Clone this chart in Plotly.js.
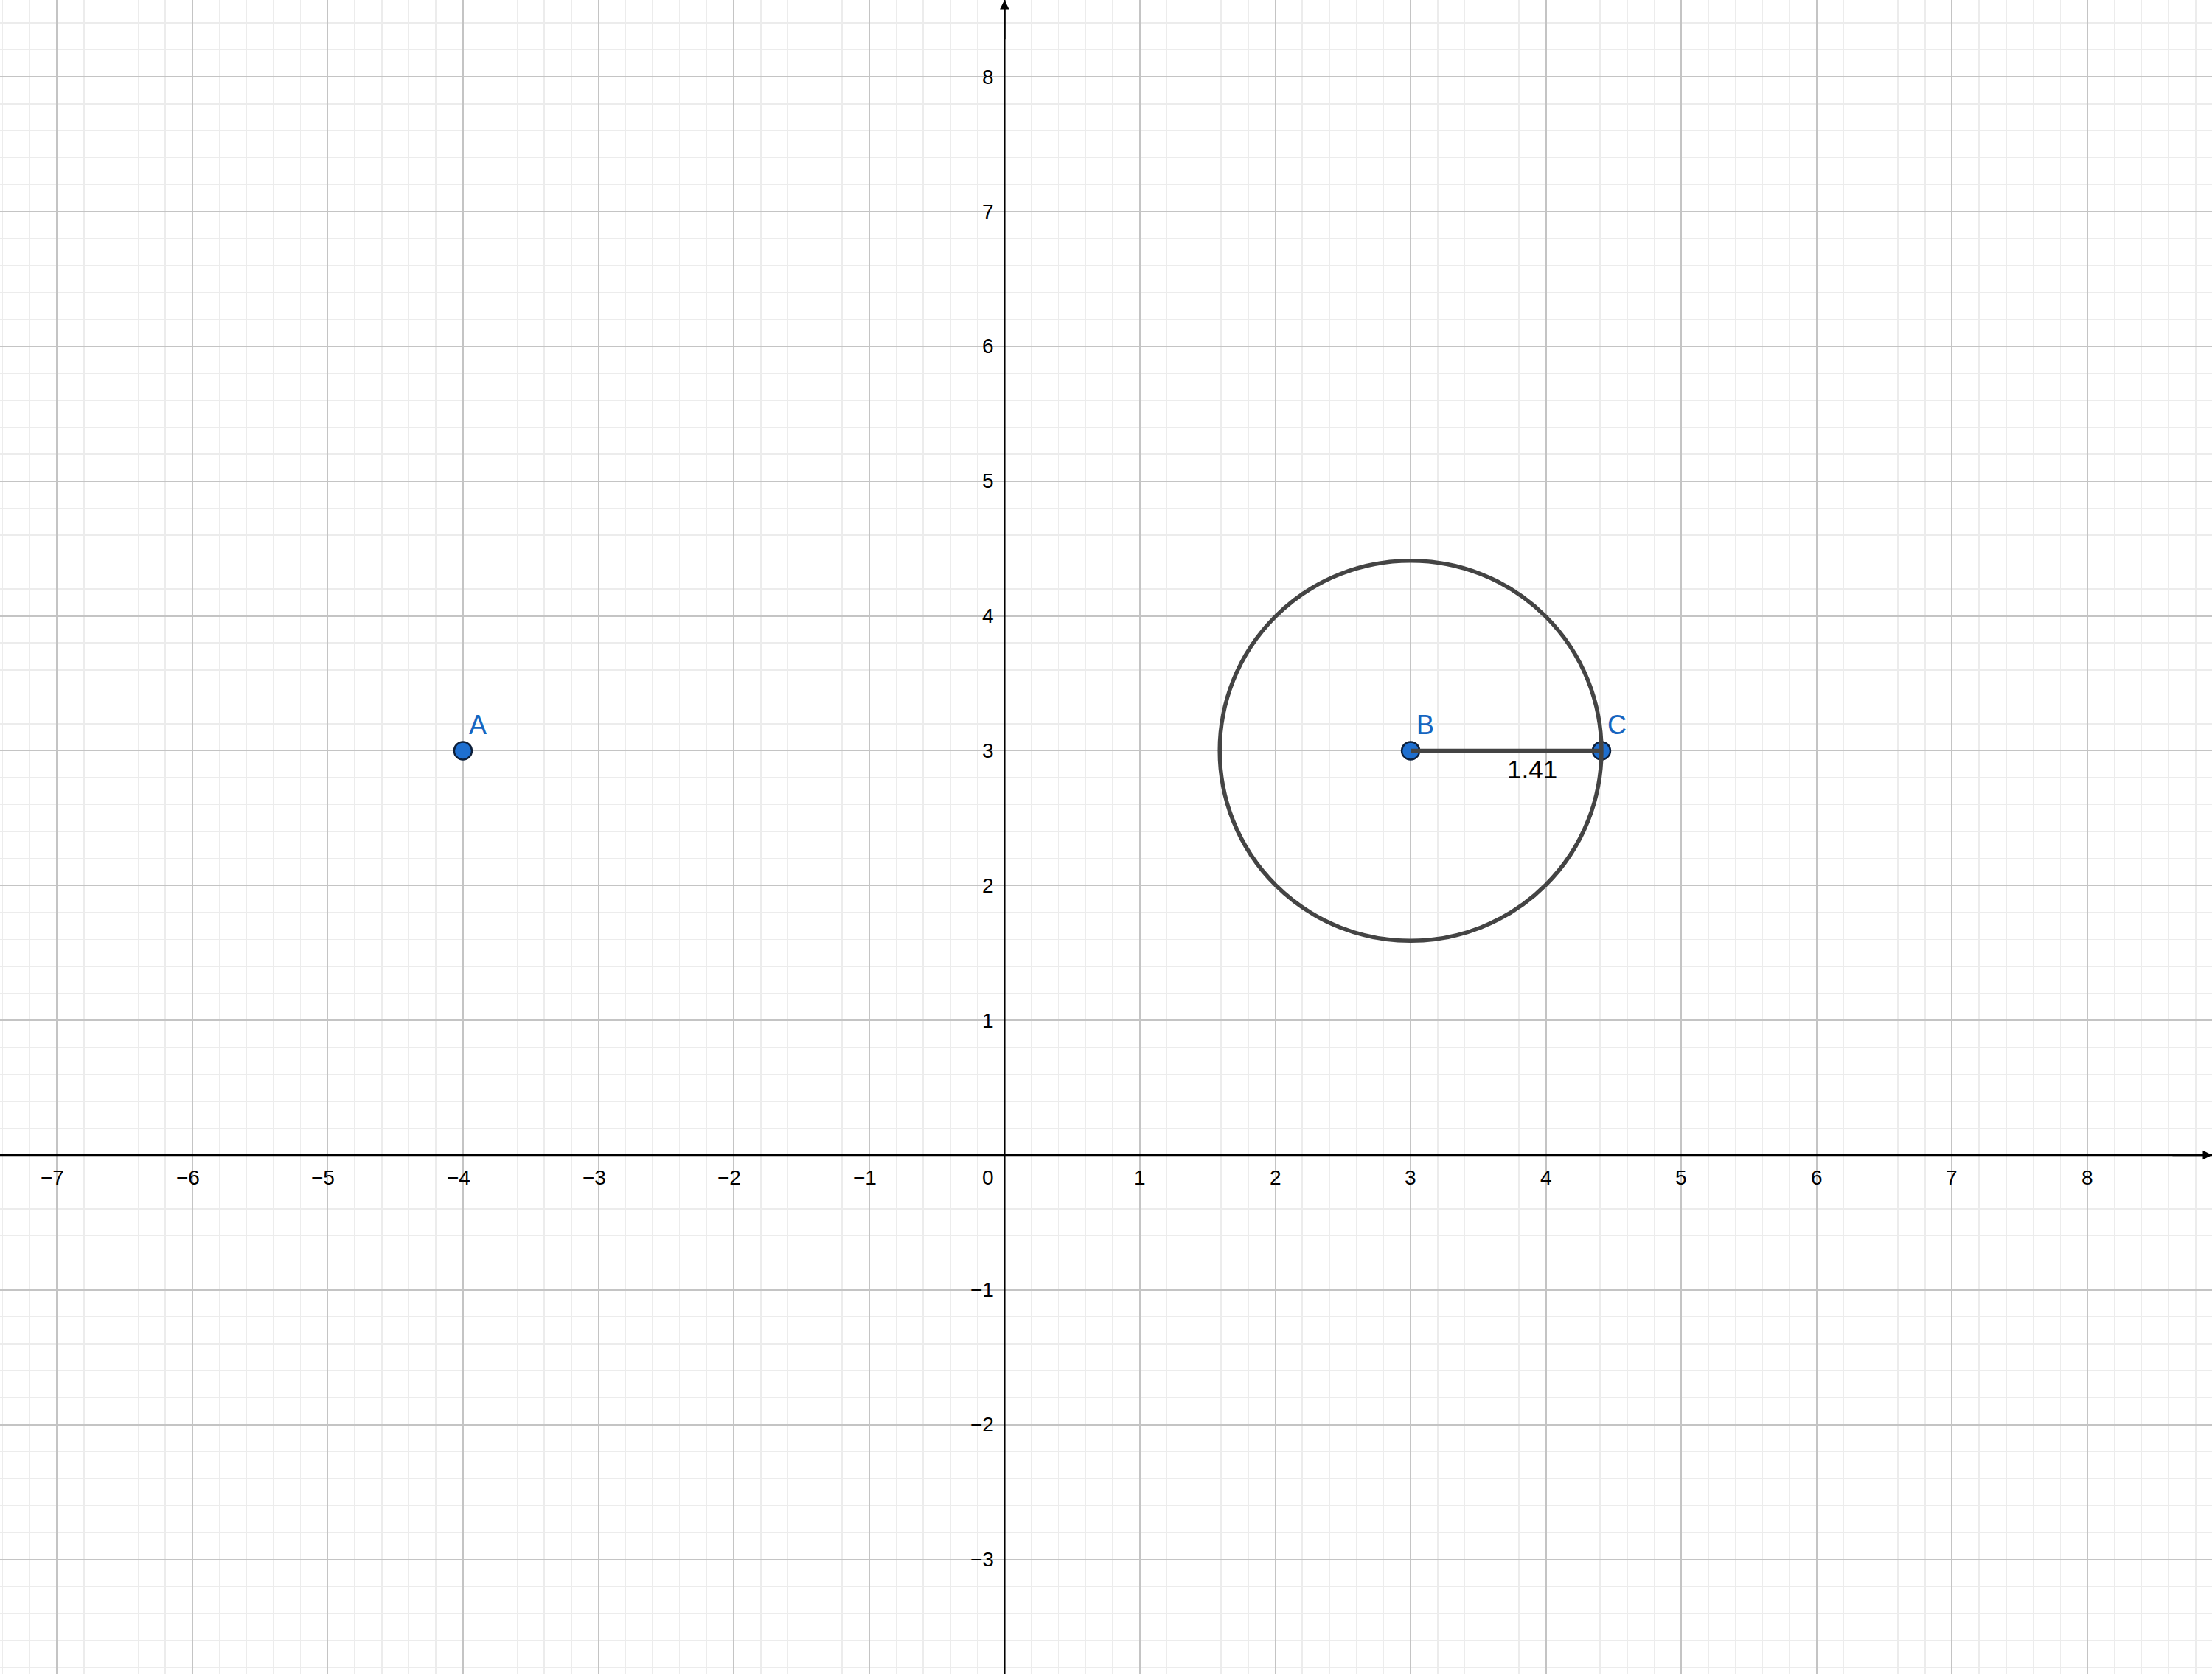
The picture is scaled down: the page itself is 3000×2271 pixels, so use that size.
<!DOCTYPE html>
<html>
<head>
<meta charset="utf-8">
<script src="https://cdn.plot.ly/plotly-3.0.1.min.js"></script>
<style>html,body{margin:0;padding:0;background:#fff}#plot{width:3000px;height:2271px}</style>
</head>
<body>
<div id="plot"></div>
<script>
// view window
var x_range = [-7.42, 8.92];
var y_range = [-3.85, 8.57];
var x_ticks = [-7, -6, -5, -4, -3, -2, -1, 1, 2, 3, 4, 5, 6, 7, 8];
var y_ticks = [-3, -2, -1, 1, 2, 3, 4, 5, 6, 7, 8];

// points
var point_names = ['A', 'B', 'C'];
var point_x = [-4, 3, 4.41];
var point_y = [3, 3, 3];

// circle through C centred at B
var circle_center = [3, 3];
var circle_radius = 1.41;
var segment_label = '1.41';
var segment_label_x = 3.9;

function fmt(v){ return v < 0 ? '\u2212' + Math.abs(v) : String(v); }

var tickFont = {family: 'Liberation Sans, Arial', size: 28, color: '#000'};
var annotations = [];
x_ticks.forEach(function(v){
   annotations.push({x: v, y: 0, xref: 'x', yref: 'y', text: fmt(v), showarrow: false,
      yshift: -30, xshift: v < 0 ? -6 : 0, font: tickFont});
});
y_ticks.forEach(function(v){
   annotations.push({x: 0, y: v, xref: 'x', yref: 'y', text: fmt(v), showarrow: false,
      xanchor: 'right', xshift: -12, font: tickFont});
});
annotations.push({x: 0, y: 0, xref: 'x', yref: 'y', text: '0', showarrow: false,
   xanchor: 'right', xshift: -12, yshift: -30, font: tickFont});
// axis arrows
annotations.push({x: x_range[1], y: 0, ax: x_range[1] - 0.3, ay: 0, axref: 'x', ayref: 'y',
   xref: 'x', yref: 'y', showarrow: true, arrowhead: 2, arrowsize: 1, arrowwidth: 2.5, arrowcolor: '#000', text: ''});
annotations.push({x: 0, y: y_range[1], ax: 0, ay: y_range[1] - 0.3, axref: 'x', ayref: 'y',
   xref: 'x', yref: 'y', showarrow: true, arrowhead: 2, arrowsize: 1, arrowwidth: 2.5, arrowcolor: '#000', text: ''});
// point labels
point_names.forEach(function(n, i){
   annotations.push({x: point_x[i], y: point_y[i], xref: 'x', yref: 'y', text: n, showarrow: false,
      xanchor: 'left', yanchor: 'bottom', xshift: 6, yshift: 12,
      font: {family: 'Liberation Sans, Arial', size: 36, color: '#1565c0'}});
});
annotations.push({x: segment_label_x, y: point_y[1], xref: 'x', yref: 'y', text: segment_label,
   showarrow: false, yanchor: 'top', yshift: -4, font: {family: 'Liberation Sans, Arial', size: 35, color: '#000'}});

var shapes = [
   {type: 'circle', xref: 'x', yref: 'y',
      x0: circle_center[0] - circle_radius, x1: circle_center[0] + circle_radius,
      y0: circle_center[1] - circle_radius, y1: circle_center[1] + circle_radius,
      line: {color: '#444', width: 5.5}},
   {type: 'line', xref: 'x', yref: 'y', x0: point_x[1], y0: point_y[1], x1: point_x[2], y1: point_y[2],
      line: {color: '#444', width: 5.5}},
   {type: 'line', xref: 'x', yref: 'y', x0: x_range[0], x1: x_range[1], y0: 0, y1: 0, line: {color: '#000', width: 2.5}},
   {type: 'line', xref: 'x', yref: 'y', x0: 0, x1: 0, y0: y_range[0], y1: y_range[1], line: {color: '#000', width: 2.5}}
];

var points_trace = {
   x: point_x, y: point_y, mode: 'markers', type: 'scatter', hoverinfo: 'skip',
   marker: {size: 24, color: '#1e6fd0', line: {color: '#0d1f3a', width: 2.5}}
};

function axis(r){
   return {range: r, dtick: 1, tick0: 0, showticklabels: false, zeroline: false,
      gridcolor: '#c4c4c4', gridwidth: 2,
      minor: {dtick: 0.2, showgrid: true, gridcolor: '#ececec', gridwidth: 1.5},
      showline: false, fixedrange: true};
}

Plotly.newPlot('plot', [points_trace], {
   width: 3000, height: 2271,
   margin: {l: 0, r: 0, t: 0, b: 0},
   paper_bgcolor: '#fff', plot_bgcolor: '#fff',
   showlegend: false,
   xaxis: axis(x_range),
   yaxis: axis(y_range),
   shapes: shapes,
   annotations: annotations
}, {staticPlot: true});
</script>
</body>
</html>
